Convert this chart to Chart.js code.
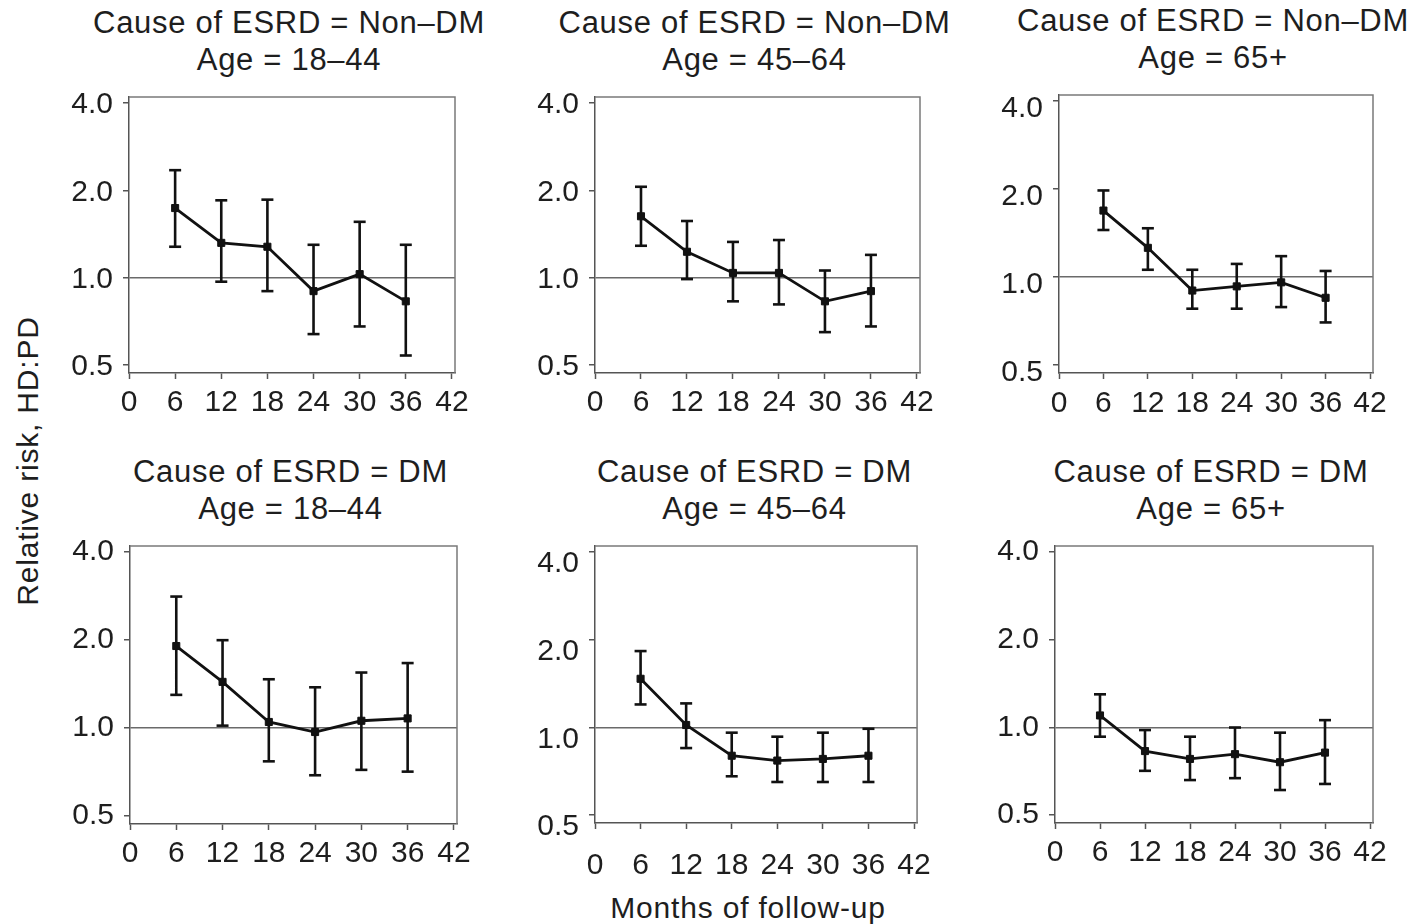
<!DOCTYPE html>
<html><head><meta charset="utf-8">
<script src="https://cdn.jsdelivr.net/npm/chart.js@4.4.1/dist/chart.umd.min.js"></script>
<style>
body{margin:0;background:#fff;width:1420px;height:924px;position:relative;overflow:hidden;font-family:"Liberation Sans",Arial,sans-serif;color:#1e1e1e;}
canvas{position:absolute;}
.title{position:absolute;width:500px;text-align:center;font-size:31px;line-height:37px;letter-spacing:0.7px;white-space:nowrap;}
.xlab{position:absolute;left:448px;width:600px;top:890px;text-align:center;font-size:30px;line-height:36px;letter-spacing:0.8px;white-space:nowrap;}
.ylab{position:absolute;left:-272px;width:600px;top:443px;text-align:center;font-size:30px;line-height:36px;letter-spacing:0.8px;white-space:nowrap;transform:rotate(-90deg);}
</style></head><body>
<div class="xlab">Months of follow-up</div>
<div class="ylab">Relative risk, HD:PD</div>
<script>
// ---- data ----
const months = [6, 12, 18, 24, 30, 36];
const xTickValues = [0, 6, 12, 18, 24, 30, 36, 42];
const yTickValues = [0.5, 1, 2, 4];

const causeLabels = ["Cause of ESRD = Non\u2013DM", "Cause of ESRD = DM"];
const ageLabels = ["Age = 18\u201344", "Age = 45\u201364", "Age = 65+"];

const rrNonDM_18_44 = [1.74, 1.32, 1.28, 0.90, 1.03, 0.83];
const loNonDM_18_44 = [1.28, 0.97, 0.90, 0.64, 0.68, 0.54];
const hiNonDM_18_44 = [2.35, 1.85, 1.86, 1.30, 1.56, 1.30];

const rrNonDM_45_64 = [1.63, 1.23, 1.04, 1.04, 0.83, 0.90];
const loNonDM_45_64 = [1.29, 0.99, 0.83, 0.81, 0.65, 0.68];
const hiNonDM_45_64 = [2.06, 1.57, 1.33, 1.35, 1.06, 1.20];

const rrNonDM_65 = [1.69, 1.26, 0.90, 0.93, 0.96, 0.85];
const loNonDM_65 = [1.45, 1.06, 0.78, 0.78, 0.79, 0.70];
const hiNonDM_65 = [1.98, 1.47, 1.06, 1.11, 1.18, 1.05];

const rrDM_18_44 = [1.91, 1.44, 1.05, 0.97, 1.06, 1.08];
const loDM_18_44 = [1.30, 1.02, 0.77, 0.69, 0.72, 0.71];
const hiDM_18_44 = [2.82, 2.00, 1.47, 1.38, 1.55, 1.67];

const rrDM_45_64 = [1.47, 1.02, 0.80, 0.77, 0.78, 0.80];
const loDM_45_64 = [1.20, 0.85, 0.68, 0.65, 0.65, 0.65];
const hiDM_45_64 = [1.83, 1.21, 0.96, 0.93, 0.96, 0.99];

const rrDM_65 = [1.10, 0.83, 0.78, 0.81, 0.76, 0.82];
const loDM_65 = [0.93, 0.71, 0.66, 0.67, 0.61, 0.64];
const hiDM_65 = [1.30, 0.98, 0.93, 1.00, 0.96, 1.06];

// ---- layout of panels (plot-area rectangles) ----
const panels = [
  {L:129, R:455, T:93,  B:373, yOff:2,  xPad:6,  cause:0, age:0, rr:rrNonDM_18_44, lo:loNonDM_18_44, hi:hiNonDM_18_44},
  {L:595, R:920, T:93,  B:373, yOff:2,  xPad:6,  cause:0, age:1, rr:rrNonDM_45_64, lo:loNonDM_45_64, hi:hiNonDM_45_64},
  {L:1059,R:1373,T:91,  B:373, yOff:8,  xPad:7,  cause:0, age:2, rr:rrNonDM_65,    lo:loNonDM_65,    hi:hiNonDM_65},
  {L:130, R:457, T:542, B:824, yOff:0,  xPad:6,  cause:1, age:0, rr:rrDM_18_44,    lo:loDM_18_44,    hi:hiDM_18_44},
  {L:595, R:920, T:542, B:823, yOff:12, xPad:19, cause:1, age:1, rr:rrDM_45_64,    lo:loDM_45_64,    hi:hiDM_45_64},
  {L:1055,R:1373,T:542, B:823, yOff:0,  xPad:6,  cause:1, age:2, rr:rrDM_65,       lo:loDM_65,       hi:hiDM_65}
];

Chart.defaults.font.family = '"Liberation Sans", Arial, sans-serif';

const framePlugin = {
  id: 'frame',
  beforeDatasetsDraw(chart) {
    const {ctx, chartArea: a} = chart;
    ctx.save();
    ctx.strokeStyle = '#7a7a7a';
    ctx.lineWidth = 1.5;
    ctx.beginPath();
    ctx.moveTo(a.left, a.top);
    ctx.lineTo(a.right, a.top);
    ctx.lineTo(a.right, a.bottom);
    ctx.stroke();
    ctx.restore();
  }
};

const Y_W = 90, X_H = 70, PT = 24, PR = 30;
const tickFont = {size: 30, lineHeight: 1.2};

panels.forEach(p => {
  // title
  const t = document.createElement('div');
  t.className = 'title';
  t.style.left = ((p.L + p.R) / 2 - 3 - 250) + 'px';
  t.style.top = (p.T - 89) + 'px';
  t.innerHTML = causeLabels[p.cause] + '<br>' + ageLabels[p.age];
  document.body.appendChild(t);

  const cv = document.createElement('canvas');
  const w = Y_W + (p.R - p.L) + PR, h = PT + (p.B - p.T) + X_H;
  cv.width = w; cv.height = h;
  cv.style.left = (p.L - Y_W) + 'px';
  cv.style.top = (p.T - PT) + 'px';
  cv.style.width = w + 'px'; cv.style.height = h + 'px';
  document.body.appendChild(cv);

  const pts = months.map((m, i) => ({x: m, y: p.rr[i]}));
  const err = [];
  months.forEach((m, i) => { err.push({x: m, y: p.lo[i]}, {x: m, y: p.hi[i]}, {x: m, y: null}); });

  new Chart(cv, {
    type: 'line',
    data: {datasets: [
      {data: pts, borderColor: '#111', borderWidth: 2.8, pointStyle: 'rect', pointRadius: 5,
       pointBackgroundColor: '#111', pointBorderColor: '#111', pointBorderWidth: 1, tension: 0},
      {data: err, borderColor: '#111', borderWidth: 2.6, pointStyle: 'line', pointRadius: 6,
       pointBorderColor: '#111', pointBackgroundColor: '#111', pointBorderWidth: 2.6, spanGaps: false, tension: 0}
    ]},
    options: {
      responsive: false, animation: false, devicePixelRatio: 1,
      layout: {padding: {top: PT, right: PR, left: 0, bottom: 0}},
      plugins: {legend: {display: false}, tooltip: {enabled: false}, title: {display: false}},
      scales: {
        x: {
          type: 'linear', min: 0, max: 42.4,
          afterBuildTicks: s => { s.ticks = xTickValues.map(v => ({value: v})); },
          afterFit: s => { s.height = X_H; },
          ticks: {font: tickFont, color: '#1e1e1e', padding: p.xPad, maxRotation: 0, autoSkip: false,
                  callback: v => String(v)},
          grid: {drawOnChartArea: false, tickLength: 6, tickColor: '#555', tickWidth: 1.5},
          border: {display: true, color: '#555', width: 1.5}
        },
        y: {
          type: 'logarithmic', min: 0.47, max: 4.2,
          afterBuildTicks: s => { s.ticks = yTickValues.map(v => ({value: v})); },
          afterFit: s => { s.width = Y_W; },
          ticks: {font: tickFont, color: '#1e1e1e', padding: 10, labelOffset: p.yOff, autoSkip: false,
                  callback: v => Number(v).toFixed(1)},
          grid: {color: c => (c.tick && c.tick.value === 1) ? '#6a6a6a' : 'rgba(0,0,0,0)',
                 lineWidth: 1.5, tickLength: 6, tickColor: '#555', tickWidth: 1.5},
          border: {display: true, color: '#555', width: 1.5}
        }
      }
    },
    plugins: [framePlugin]
  });
});
</script>
</body></html>
